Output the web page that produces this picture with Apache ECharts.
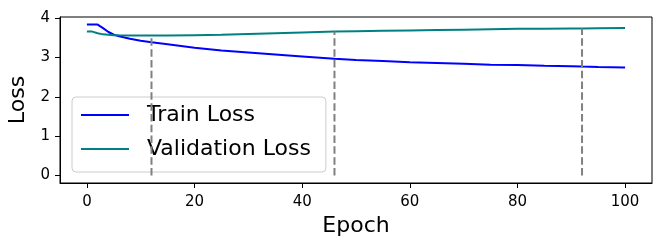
<!DOCTYPE html>
<html><head><meta charset="utf-8">
<script src="https://cdn.jsdelivr.net/npm/echarts@6/dist/echarts.min.js"></script>
<style>html,body{margin:0;padding:0;background:#fff}#c{width:664px;height:249px}</style>
</head><body><div id="c"></div>
<script>
const epochs = [0,1,2,3,4,5,6,8,10,12,15,20,25,30,35,40,46,50,55,60,65,70,75,80,85,90,92,95,100];
const trainLoss = [3.84,3.84,3.84,3.75,3.65,3.58,3.54,3.48,3.43,3.39,3.34,3.25,3.18,3.13,3.08,3.03,2.97,2.94,2.91,2.88,2.86,2.84,2.82,2.81,2.79,2.78,2.77,2.76,2.75];
const valLoss = [3.66,3.66,3.62,3.59,3.58,3.57,3.565,3.56,3.56,3.56,3.56,3.57,3.58,3.60,3.62,3.64,3.66,3.67,3.68,3.69,3.70,3.71,3.72,3.73,3.735,3.74,3.74,3.745,3.75];
const markEpochs = [12,46,92];
const markValues = [3.56,3.66,3.74];
const xTicks = [0,20,40,60,80,100];
const yTicks = [0,1,2,3,4];

const font = 'DejaVu Sans';
const series = [
  {name:'Train Loss', type:'line', symbol:'none', legendIcon:'rect', data: epochs.map((e,i)=>[e,trainLoss[i]]),
   lineStyle:{color:'#0000ff', width:2}, itemStyle:{color:'#0000ff'}, z:3},
  {name:'Validation Loss', type:'line', symbol:'none', legendIcon:'rect', data: epochs.map((e,i)=>[e,valLoss[i]]),
   lineStyle:{color:'#008080', width:2}, itemStyle:{color:'#008080'}, z:3}
];
markEpochs.forEach((e,i)=>{
  series.push({name:'mark'+i, type:'line', symbol:'none', data:[[e,0],[e,markValues[i]]],
    lineStyle:{color:'#808080', width:2, type:[7.5,3.3]}, z:4, silent:true});
});
const chart = echarts.init(document.getElementById('c'), null, {renderer:'canvas'});
chart.setOption({
  animation:false,
  textStyle:{fontFamily:font},
  grid:{left:60, top:17, right:12, bottom:66, outerBoundsMode:'none', containLabel:false,
    show:true, borderColor:'#000', borderWidth:1, backgroundColor:'transparent'},
  legend:{data:['Train Loss','Validation Loss'], orient:'vertical', left:72, top:97,
    icon:'rect', itemWidth:48, itemHeight:2, itemGap:8,
    padding:[5,15,10,9], backgroundColor:'rgba(255,255,255,0.8)', borderColor:'#cccccc', borderWidth:1, borderRadius:4,
    textStyle:{fontFamily:font, fontSize:22, color:'#000', lineHeight:26, padding:[0,0,0,13]}},
  xAxis:{type:'value', min:-5, max:105, name:'Epoch', nameLocation:'middle', nameGap:31,
    nameTextStyle:{fontFamily:font, fontSize:22, color:'#000'},
    splitLine:{show:false},
    axisLine:{show:true, onZero:false, lineStyle:{color:'#000', width:1}},
    axisTick:{show:true, length:5, customValues:xTicks, lineStyle:{color:'#000'}},
    axisLabel:{customValues:xTicks, fontFamily:font, fontSize:15, color:'#000', margin:12}},
  yAxis:{type:'value', min:-0.192, max:4.032, name:'Loss', nameLocation:'middle', nameGap:15,
    nameTextStyle:{fontFamily:font, fontSize:22, color:'#000'},
    splitLine:{show:false},
    axisLine:{show:true, onZero:false, lineStyle:{color:'#000', width:1}},
    axisTick:{show:true, length:5, customValues:yTicks, lineStyle:{color:'#000'}},
    axisLabel:{customValues:yTicks, fontFamily:font, fontSize:15, color:'#000', margin:10}},
  series: series
});
</script></body></html>
